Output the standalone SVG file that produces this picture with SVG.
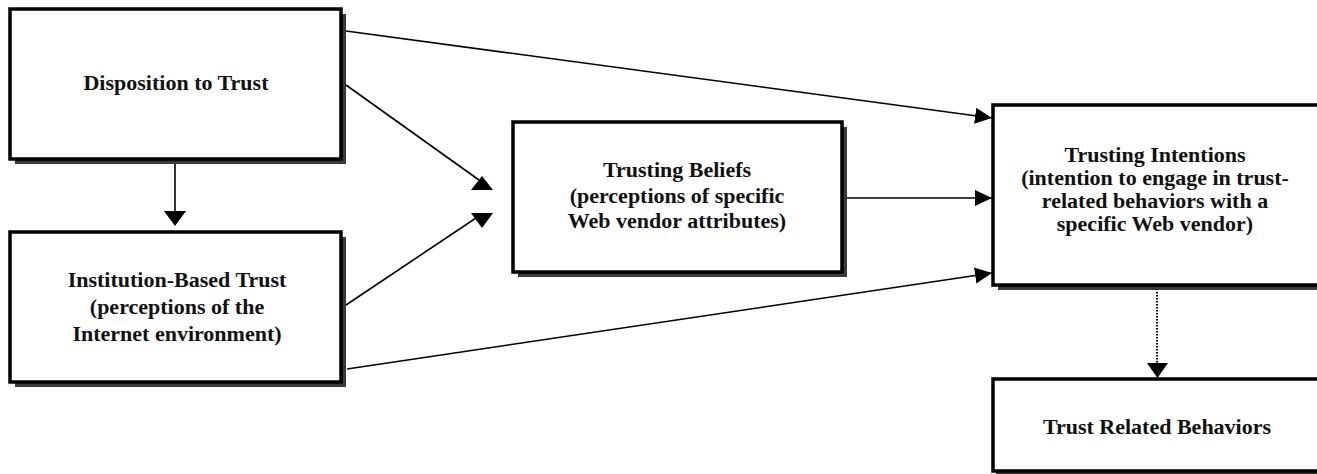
<svg xmlns="http://www.w3.org/2000/svg" width="1317" height="474" viewBox="0 0 1317 474">
<style>
.box{fill:#fff;stroke:#000;stroke-width:3.5}
.shadow{fill:#3a3a3a}
.t{font-family:"Liberation Serif","Times New Roman",serif;font-weight:bold;font-size:22px;fill:#111;text-anchor:middle}
.ln{stroke:#000;stroke-width:1.6;fill:none}
.dot{stroke:#000;stroke-width:2;stroke-dasharray:1.5 1.5;fill:none}
.head{fill:#000}
</style>
<defs>
<marker id="arr" markerUnits="userSpaceOnUse" markerWidth="18" markerHeight="18" refX="17" refY="9" orient="auto">
<path d="M0,1 L17,9 L0,17 z" fill="#000"/>
</marker>
</defs>
<rect width="1317" height="474" fill="#fff"/>
<g id="disposition">
<rect class="shadow" x="15" y="14" width="331" height="150"/>
<rect class="box" x="10" y="9" width="331" height="150"/>
<text class="t" x="176" y="90">Disposition to Trust</text>
</g>
<g id="institution">
<rect class="shadow" x="15" y="237" width="331" height="150"/>
<rect class="box" x="10" y="232" width="331" height="150"/>
<text class="t" x="177" y="287">Institution-Based Trust</text>
<text class="t" x="177" y="314">(perceptions of the</text>
<text class="t" x="177" y="341">Internet environment)</text>
</g>
<g id="beliefs">
<rect class="shadow" x="518" y="127" width="329" height="150"/>
<rect class="box" x="513" y="122" width="329" height="150"/>
<text class="t" x="677" y="177">Trusting Beliefs</text>
<text class="t" x="677" y="203">(perceptions of specific</text>
<text class="t" x="677" y="228">Web vendor attributes)</text>
</g>
<g id="intentions">
<rect class="shadow" x="998" y="110" width="340" height="180"/>
<rect class="box" x="993" y="105" width="340" height="180"/>
<text class="t" x="1155" y="162">Trusting Intentions</text>
<text class="t" x="1155" y="185">(intention to engage in trust-</text>
<text class="t" x="1155" y="208">related behaviors with a</text>
<text class="t" x="1155" y="231">specific Web vendor)</text>
</g>
<g id="behaviors">
<rect class="shadow" x="996" y="382" width="340" height="92"/>
<rect class="box" x="993" y="379" width="340" height="92"/>
<text class="t" x="1157" y="434">Trust Related Behaviors</text>
</g>
<g id="connectors">
<line class="ln" x1="175" y1="164" x2="175" y2="216"/>
<polygon class="head" points="164,211 186,211 175,226"/>
<line class="ln" x1="346" y1="31" x2="992" y2="118" marker-end="url(#arr)"/>
<line class="ln" x1="346" y1="85" x2="479" y2="180"/>
<polygon class="head" points="471,190 493,190 482,176"/>
<line class="ln" x1="346" y1="305" x2="479" y2="216"/>
<polygon class="head" points="471,213 493,213 482,228"/>
<line class="ln" x1="847" y1="198" x2="992" y2="198" marker-end="url(#arr)"/>
<line class="ln" x1="347" y1="369" x2="992" y2="273" marker-end="url(#arr)"/>
<line class="dot" x1="1157" y1="292" x2="1157" y2="366"/>
<polygon class="head" points="1147,363 1168,363 1157.5,378"/>
</g>
</svg>
